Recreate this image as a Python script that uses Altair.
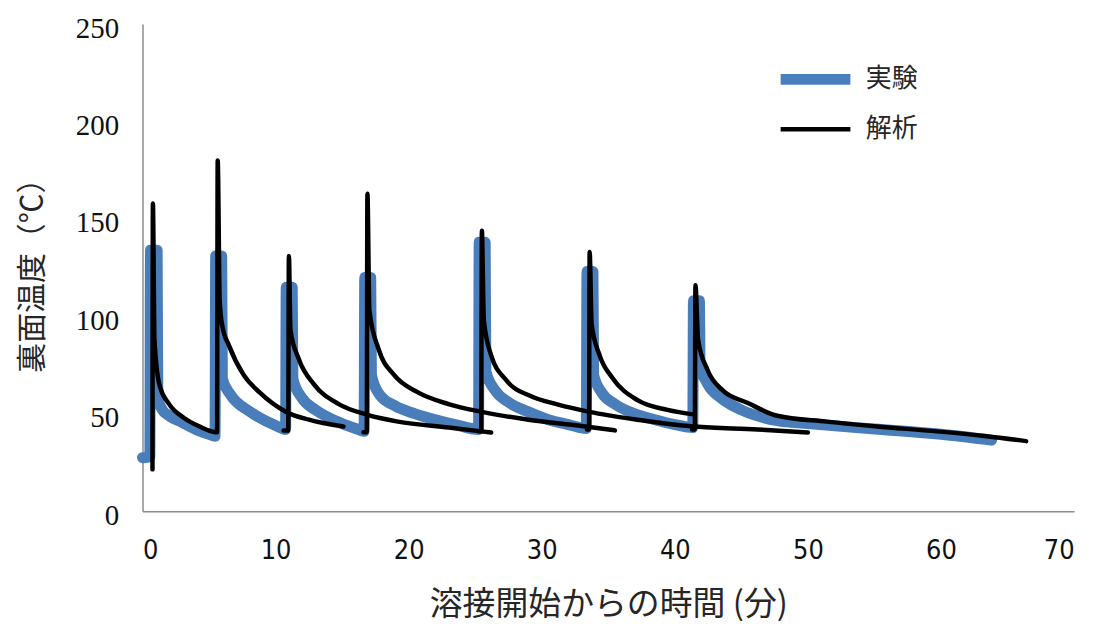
import altair as alt
import pandas as pd

# ---- 実験 (experiment) ----
exp_t = [0.0, 0.55, 0.6, 1.1, 1.15, 1.5, 2.0, 3.0, 4.0, 5.0, 5.45,
         5.5, 5.95, 6.0, 6.6, 8.1, 10.0, 10.75,
         10.8, 11.25, 11.3, 12.0, 13.0, 14.0, 15.0, 16.0, 16.65,
         16.7, 17.15, 17.2, 17.8, 19.0, 20.5, 22.0, 23.5, 25.25,
         25.3, 25.75, 25.8, 26.5, 27.5, 29.0, 30.5, 32.0, 33.35,
         33.4, 33.85, 33.9, 34.5, 35.5, 37.0, 38.5, 40.0, 41.35,
         41.4, 41.85, 41.9, 42.5, 43.5, 45.0, 47.7, 50.0, 55.0, 60.0, 63.8]
exp_T = [27.5, 28, 134, 134, 58, 52, 49, 45.5, 42, 39.5, 38.5,
         131, 131, 68, 60, 51, 44, 42,
         115, 115, 68, 58, 52, 48, 45, 42.5, 41,
         120, 120, 70, 60, 54, 50, 47, 44.5, 42,
         138, 138, 72, 62, 56, 51, 47, 44.5, 42.5,
         123, 123, 70, 61, 55, 50, 47, 44.5, 43,
         108, 108, 75, 65, 58, 52, 46.5, 45, 42.2, 39.5, 36.5]

# ---- 解析 (analysis), several runs ----
run1_t = [0.75, 0.78, 0.9, 1.27, 2.0, 3.1, 4.3, 5.2, 5.6, 5.65, 5.8, 6.0, 6.5, 7.6, 8.8, 10.8, 12.5, 15.1]
run1_T = [21.5, 158, 88, 65, 55, 48, 43.5, 41, 40.5, 180, 108, 95, 85, 70, 61, 51, 47, 43.5]
run2_t = [10.6, 10.95, 11.0, 11.12, 11.75, 12.9, 14.75, 16.85, 19.2, 23.0, 26.2]
run2_T = [41.5, 41.5, 131, 93, 78, 65, 55, 49.6, 46, 43, 40.4]
run3_t = [16.6, 16.85, 16.9, 17.05, 17.75, 18.9, 20.7, 23.0, 25.5, 29.0, 32.7, 35.5]
run3_T = [40.5, 40.5, 163, 103, 83, 70, 61, 55, 51, 47, 44, 41.5]
run4_t = [25.3, 25.45, 25.5, 25.65, 26.2, 27.3, 29.2, 31.1, 33.6, 37.2, 41.5, 46.2, 50.0]
run4_T = [41, 41, 144, 98, 80, 67.5, 59, 55, 51, 47, 43.5, 42, 40.4]
run5_t = [33.4, 33.55, 33.6, 33.75, 34.35, 35.3, 37.2, 39.45, 41.5]
run5_T = [42, 42, 133, 96, 80, 68.5, 57, 52, 49.6]
run6_t = [41.3, 41.5, 41.55, 41.75, 42.45, 43.6, 45.45, 47.7, 51.4, 55.2, 59.7, 63.4, 66.4]
run6_T = [42, 42, 116, 88, 72.6, 62, 55.7, 49, 46, 43.5, 41, 38.5, 36]

series_names = ["実験", "解析"]
series_colors = ["#4A7EBB", "#000000"]
series_widths = [11, 4.5]

x_ticks = [0, 10, 20, 30, 40, 50, 60, 70]
y_ticks = [0, 50, 100, 150, 200, 250]

rows = []
for i, (t, v) in enumerate(zip(exp_t, exp_T)):
    rows.append({"t": t, "T": v, "series": "実験", "run": "e", "i": i})
for name, ts, vs in [("r1", run1_t, run1_T), ("r2", run2_t, run2_T), ("r3", run3_t, run3_T),
                     ("r4", run4_t, run4_T), ("r5", run5_t, run5_T), ("r6", run6_t, run6_T)]:
    for i, (t, v) in enumerate(zip(ts, vs)):
        rows.append({"t": t, "T": v, "series": "解析", "run": name, "i": i})
df = pd.DataFrame(rows)

x_enc = alt.X("t:Q", scale=alt.Scale(domain=[0, 70], nice=False),
              axis=alt.Axis(values=x_ticks, grid=False, ticks=False,
                            domainColor="#8c8c8c", domainWidth=1.5,
                            labelFont="'Liberation Sans Narrow', 'DejaVu Sans Condensed', Roboto, 'Liberation Sans', sans-serif",
                            labelFontSize=27,
                            labelColor="#111111", labelPadding=26,
                            title="溶接開始からの時間 (分)", titleFont="Noto Sans CJK JP",
                            titleFontSize=33, titleFontWeight="normal",
                            titleColor="#262626", titlePadding=26))
y_enc = alt.Y("T:Q", scale=alt.Scale(domain=[0, 250], nice=False),
              axis=alt.Axis(values=y_ticks, grid=False, ticks=False,
                            domainColor="#8c8c8c", domainWidth=1.5,
                            labelFont="Liberation Serif", labelFontSize=29,
                            labelColor="#111111", labelPadding=24, labelOffset=4,
                            title="裏面温度（℃）", titleFont="Noto Sans CJK JP",
                            titleFontSize=30, titleFontWeight="normal",
                            titleColor="#262626", titlePadding=28))
color_enc = alt.Color("series:N", scale=alt.Scale(domain=series_names, range=series_colors),
                      legend=alt.Legend(title=None))
width_enc = alt.StrokeWidth("series:N", scale=alt.Scale(domain=series_names, range=series_widths),
                            legend=alt.Legend(title=None))

base = alt.Chart(df)
exp_layer = base.transform_filter(alt.datum.series == "実験").mark_line(
    strokeCap="round", strokeJoin="round", interpolate="monotone").encode(
    x=x_enc, y=y_enc, color=color_enc, strokeWidth=width_enc, detail="run:N", order="i:Q")
ana_layer = base.transform_filter(alt.datum.series == "解析").mark_line(
    strokeCap="round", strokeJoin="round", interpolate="monotone").encode(
    x=x_enc, y=y_enc, color=color_enc, strokeWidth=width_enc, detail="run:N", order="i:Q")

chart = alt.layer(exp_layer, ana_layer).properties(
    width=935, height=489,
    autosize=alt.AutoSizeParams(type="none"),
    padding={"left": 135, "top": 15, "right": 15, "bottom": 112},
).configure_view(stroke=None).configure_legend(
    orient="none", legendX=641, legendY=36, padding=0,
    symbolType="M-2.5,0H2.5", symbolSize=784, symbolOffset=15,
    labelFont="Noto Sans CJK JP", labelFontSize=26, labelColor="#262626",
    labelOffset=31, rowPadding=11,
)

chart.save("out.html", embed_options={"renderer": "svg", "actions": False})
